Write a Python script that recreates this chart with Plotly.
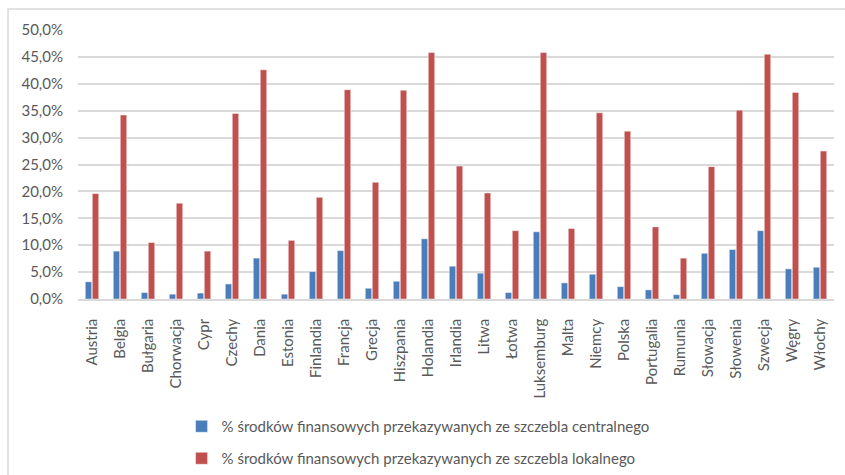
import plotly.graph_objects as go

countries = ["Austria", "Belgia", "Bułgaria", "Chorwacja", "Cypr", "Czechy", "Dania", "Estonia",
             "Finlandia", "Francja", "Grecja", "Hiszpania", "Holandia", "Irlandia", "Litwa", "Łotwa",
             "Luksemburg", "Malta", "Niemcy", "Polska", "Portugalia", "Rumunia", "Słowacja",
             "Słowenia", "Szwecja", "Węgry", "Włochy"]
central = [3.2, 8.9, 1.2, 0.9, 1.1, 2.8, 7.6, 0.9,
           5.1, 9.0, 2.0, 3.3, 11.2, 6.1, 4.8, 1.2,
           12.5, 3.0, 4.6, 2.3, 1.7, 0.8, 8.5,
           9.2, 12.7, 5.6, 5.9]
local = [19.6, 34.2, 10.5, 17.8, 8.9, 34.5, 42.6, 10.9,
         18.9, 38.9, 21.7, 38.8, 45.8, 24.7, 19.7, 12.7,
         45.8, 13.1, 34.6, 31.2, 13.4, 7.6, 24.6,
         35.1, 45.5, 38.4, 27.5]
names = ["% środków finansowych przekazywanych ze szczebla centralnego",
         "% środków finansowych przekazywanych ze szczebla lokalnego"]
colors = ["#4A7EBB", "#C0504D"]

FONT = "Lato, Carlito, 'Open Sans', sans-serif"
GRAY = "#595959"

fig = go.Figure()
for vals, name, col, lg in [(central, names[0], colors[0], "legend"), (local, names[1], colors[1], "legend2")]:
    fig.add_trace(go.Bar(x=countries, y=vals, name=name, legend=lg,
                         marker=dict(color=col, line=dict(color="rgba(255,255,255,0.45)", width=1))))

leg_common = dict(orientation="v", xanchor="left", yanchor="top", yref="container",
                  font=dict(family=FONT, size=15, color=GRAY),
                  itemwidth=30, bgcolor="rgba(0,0,0,0)")

fig.update_layout(
    width=845, height=475,
    margin=dict(l=78, r=11, t=30, b=176),
    paper_bgcolor="white", plot_bgcolor="white",
    separators=", ",
    barmode="group", bargap=0.5, bargroupgap=0.08,
    font=dict(family=FONT, size=15, color=GRAY),
    showlegend=True,
    legend=dict(x=0.137, y=0.1368, **leg_common),
    legend2=dict(x=0.137, y=0.0695, **leg_common),
    shapes=[dict(type="rect", xref="paper", yref="paper", x0=-0.0926, x1=1.05, y0=-0.8, y1=1.078,
                 line=dict(color="#D9D9D9", width=1.5), fillcolor="rgba(0,0,0,0)", layer="below")],
)
fig.update_yaxes(range=[0, 50], dtick=5, tickformat=".1f", ticksuffix="%",
                 showgrid=True, gridcolor="#D9D9D9", gridwidth=1.5, automargin=False,
                 zeroline=False, showline=False, ticks="", ticklabelstandoff=14,
                 tickfont=dict(family=FONT, size=15, color=GRAY), fixedrange=True)
fig.update_xaxes(tickangle=-90, showline=True, linecolor="#D9D9D9", linewidth=1.5,
                 ticks="", ticklabelstandoff=12, showgrid=False, automargin=False,
                 tickfont=dict(family=FONT, size=15, color=GRAY), fixedrange=True)

fig.write_html("out.html")
